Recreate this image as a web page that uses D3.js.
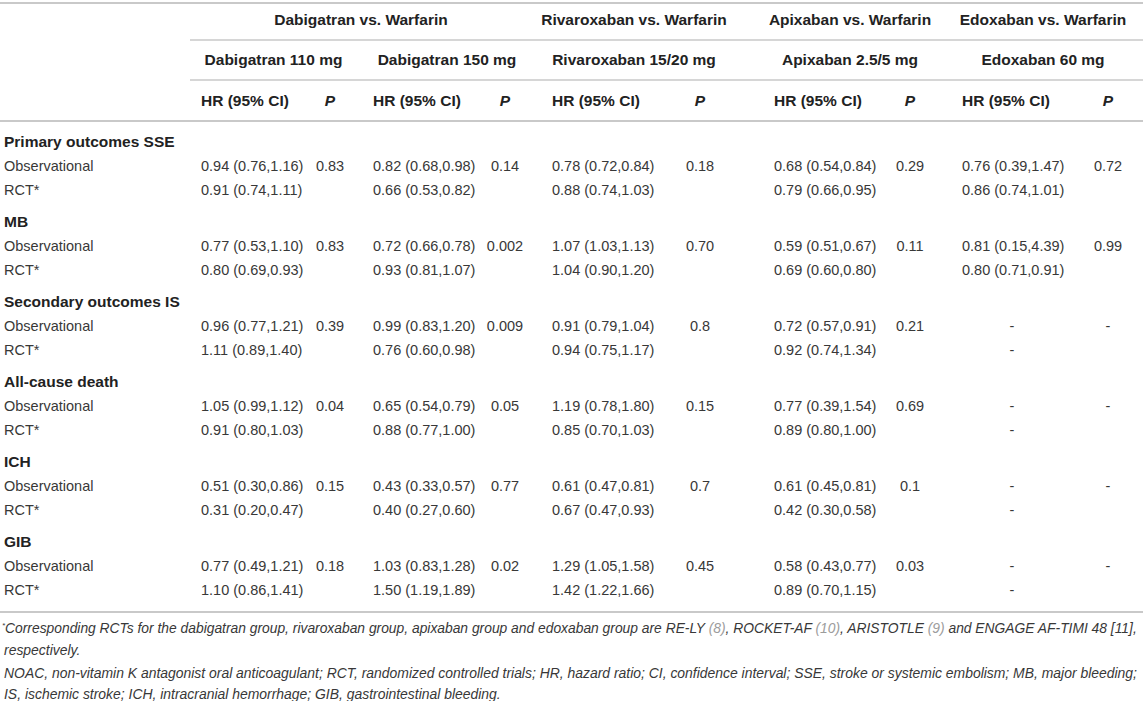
<!DOCTYPE html>
<html><head><meta charset="utf-8">
<script src="https://cdn.jsdelivr.net/npm/d3@7"></script>
<style>
body{margin:0;background:#fff}
svg{display:block}
text{font-family:"Liberation Sans",Arial,Helvetica,sans-serif}
</style></head>
<body><svg id="c" width="1143" height="701"></svg>
<script>
// ---------- data ----------
const groups = ["Dabigatran vs. Warfarin","Rivaroxaban vs. Warfarin","Apixaban vs. Warfarin","Edoxaban vs. Warfarin"];
const groupCols = [[0,1],[2,2],[3,3],[4,4]];
const doses = ["Dabigatran 110 mg","Dabigatran 150 mg","Rivaroxaban 15/20 mg","Apixaban 2.5/5 mg","Edoxaban 60 mg"];
const subHeaders = ["HR (95% CI)","P"];
const outcomes = ["Primary outcomes SSE","MB","Secondary outcomes IS","All-cause death","ICH","GIB"];
const rowKinds = ["Observational","RCT*"];
const obsHR = [
  ["0.94 (0.76,1.16)","0.82 (0.68,0.98)","0.78 (0.72,0.84)","0.68 (0.54,0.84)","0.76 (0.39,1.47)"],
  ["0.77 (0.53,1.10)","0.72 (0.66,0.78)","1.07 (1.03,1.13)","0.59 (0.51,0.67)","0.81 (0.15,4.39)"],
  ["0.96 (0.77,1.21)","0.99 (0.83,1.20)","0.91 (0.79,1.04)","0.72 (0.57,0.91)","-"],
  ["1.05 (0.99,1.12)","0.65 (0.54,0.79)","1.19 (0.78,1.80)","0.77 (0.39,1.54)","-"],
  ["0.51 (0.30,0.86)","0.43 (0.33,0.57)","0.61 (0.47,0.81)","0.61 (0.45,0.81)","-"],
  ["0.77 (0.49,1.21)","1.03 (0.83,1.28)","1.29 (1.05,1.58)","0.58 (0.43,0.77)","-"]
];
const obsP = [
  ["0.83","0.14","0.18","0.29","0.72"],
  ["0.83","0.002","0.70","0.11","0.99"],
  ["0.39","0.009","0.8","0.21","-"],
  ["0.04","0.05","0.15","0.69","-"],
  ["0.15","0.77","0.7","0.1","-"],
  ["0.18","0.02","0.45","0.03","-"]
];
const rctHR = [
  ["0.91 (0.74,1.11)","0.66 (0.53,0.82)","0.88 (0.74,1.03)","0.79 (0.66,0.95)","0.86 (0.74,1.01)"],
  ["0.80 (0.69,0.93)","0.93 (0.81,1.07)","1.04 (0.90,1.20)","0.69 (0.60,0.80)","0.80 (0.71,0.91)"],
  ["1.11 (0.89,1.40)","0.76 (0.60,0.98)","0.94 (0.75,1.17)","0.92 (0.74,1.34)","-"],
  ["0.91 (0.80,1.03)","0.88 (0.77,1.00)","0.85 (0.70,1.03)","0.89 (0.80,1.00)","-"],
  ["0.31 (0.20,0.47)","0.40 (0.27,0.60)","0.67 (0.47,0.93)","0.42 (0.30,0.58)","-"],
  ["1.10 (0.86,1.41)","1.50 (1.19,1.89)","1.42 (1.22,1.66)","0.89 (0.70,1.15)","-"]
];
const footLine1 = [
  {t:"Corresponding RCTs for the dabigatran group, rivaroxaban group, apixaban group and edoxaban group are RE-LY ", link:false},
  {t:"(8)", link:true},{t:", ROCKET-AF ", link:false},{t:"(10)", link:true},
  {t:", ARISTOTLE ", link:false},{t:"(9)", link:true},{t:" and ENGAGE AF-TIMI 48 [11],", link:false}
];
const footLines = [
  "respectively.",
  "NOAC, non-vitamin K antagonist oral anticoagulant; RCT, randomized controlled trials; HR, hazard ratio; CI, confidence interval; SSE, stroke or systemic embolism; MB, major bleeding;",
  "IS, ischemic stroke; ICH, intracranial hemorrhage; GIB, gastrointestinal bleeding."
];

// ---------- layout ----------
const W = 1143, H = 701;
const svg = d3.select("#c");
const cols = d3.range(doses.length);
const xHR = d3.scaleOrdinal().domain(cols).range([201,373,552,774,962]);
const xP  = d3.scaleOrdinal().domain(cols).range([330,505,700,910,1108]);
const dashHR = 50;
const pHalf = 16;
const ySec = d3.scaleLinear().domain([0, outcomes.length-1]).range([141, 541]);
const rowOff = d3.scaleOrdinal().domain([0,1]).range([24.5, 48.5]);
const yHead = d3.scaleOrdinal().domain([0,1,2]).range([19, 59, 100]);
const ruleColor = "#c9c9c9";
const dark = "#222", body = "#383838";
const fsR = 14.5, fsB = 15.5;

function rule(y, x1, x2, w){
  svg.append("line").attr("x1",x1).attr("x2",x2).attr("y1",y).attr("y2",y)
    .attr("stroke",ruleColor).attr("stroke-width",w);
}
rule(3, 0, W, 2.2);
rule(40, 190, W, 1.6);
rule(80, 190, W, 1.6);
rule(121, 0, W, 2.2);
rule(612, 0, W, 2.2);

function txt(x, y, s, o={}){
  return svg.append("text").attr("x",x).attr("y",y).attr("dy","0.36em")
    .attr("font-size",o.bold?fsB:fsR).attr("font-weight",o.bold?"bold":"normal")
    .attr("font-style",o.italic?"italic":"normal")
    .attr("text-anchor",o.anchor||"start").attr("fill",o.fill||body).text(s);
}

// group headers
groups.forEach((g,i)=>{
  const [a,b] = groupCols[i];
  const cx = (xHR(a) + xP(b) + pHalf)/2;
  txt(cx, yHead(0), g, {bold:true, anchor:"middle", fill:dark});
});
// dose + sub headers
cols.forEach(i=>{
  const cx = (xHR(i) + xP(i) + pHalf)/2;
  txt(cx, yHead(1), doses[i], {bold:true, anchor:"middle", fill:dark});
  txt(xHR(i), yHead(2), subHeaders[0], {bold:true, fill:dark});
  txt(xP(i), yHead(2), subHeaders[1], {bold:true, italic:true, anchor:"middle", fill:dark});
});

// body
outcomes.forEach((o,s)=>{
  const y0 = ySec(s);
  txt(4, y0, o, {bold:true, fill:dark});
  [obsHR, rctHR].forEach((arr,k)=>{
    const y = y0 + rowOff(k);
    txt(4, y, rowKinds[k]);
    cols.forEach(i=>{
      const v = arr[s][i];
      if (v === "-") txt(xHR(i)+dashHR, y, v, {anchor:"middle"});
      else txt(xHR(i), y, v);
      if (k===0) txt(xP(i), y, obsP[s][i], {anchor:"middle"});
    });
  });
});

// footnotes (condensed italic, scaled horizontally)
const fy = d3.scaleOrdinal().domain([0,1,2,3]).range([628, 650, 673, 694]);
const fsF = 14;
function footText(){
  return svg.append("text").attr("x",0).attr("y",0)
    .attr("font-size",fsF).attr("font-style","italic").attr("fill",body);
}
const base = fsF*0.35;
const f1 = footText();
f1.append("tspan").attr("font-size",8).attr("y",base-5).text("*");
footLine1.forEach((p,j)=>{
  const t = f1.append("tspan").attr("fill",p.link?"#9c9c9c":body).text(p.t);
  if (j===0) t.attr("y",base);
});
const lines = footLines.map(t=>footText().attr("y",base).text(t));
const nat3 = lines[1].node().getComputedTextLength();
const kx = (1138 - 4) / nat3;
lines.forEach((l,i)=>l.attr("transform",`translate(4,${fy(i+1)}) scale(${kx},1)`));
const nat1 = f1.node().getComputedTextLength();
f1.attr("transform",`translate(2,${fy(0)}) scale(${(1138-2)/nat1},1)`);
</script></body></html>
